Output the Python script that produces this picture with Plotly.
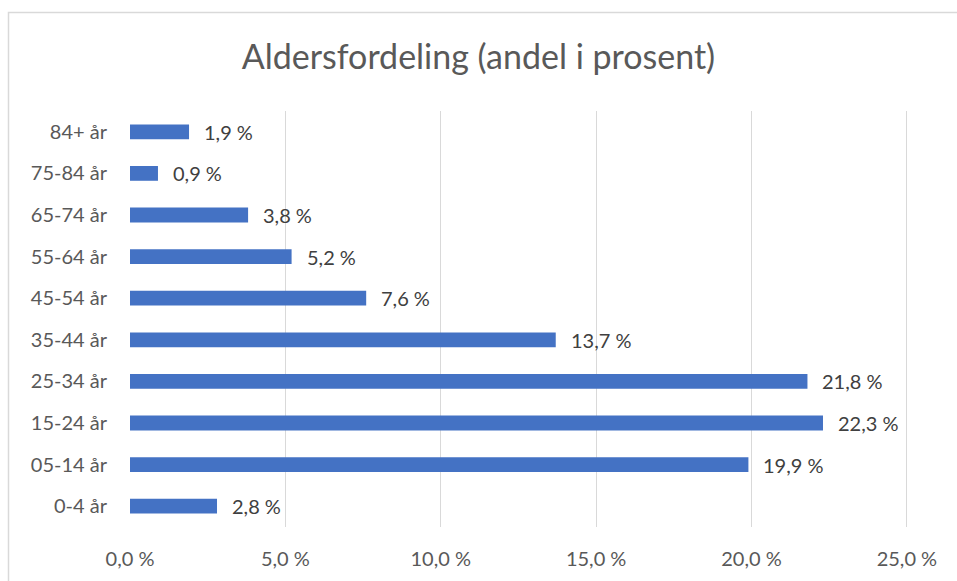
import plotly.graph_objects as go

categories = ["0-4 år", "05-14 år", "15-24 år", "25-34 år", "35-44 år",
              "45-54 år", "55-64 år", "65-74 år", "75-84 år", "84+ år"]
values = [2.8, 19.9, 22.3, 21.8, 13.7, 7.6, 5.2, 3.8, 0.9, 1.9]
x_ticks = [0, 5, 10, 15, 20, 25]
x_tick_labels = ["0,0 %", "5,0 %", "10,0 %", "15,0 %", "20,0 %", "25,0 %"]

W, H = 957, 581
L, R, T, B = 130, 47, 111, 54
pw, ph = W - L - R, H - T - B
FONT = "Lato, Open Sans, sans-serif"

fig = go.Figure()
fig.add_trace(go.Bar(
    y=categories, x=values, orientation="h",
    marker=dict(color="#4472C4", line=dict(width=0)),
    width=0.355, hoverinfo="skip",
))

for c, v in zip(categories, values):
    fig.add_annotation(x=v, y=c, xref="x", yref="y", text=f"{v:.1f} %".replace(".", ","),
                       showarrow=False, xanchor="left", xshift=13,
                       font=dict(family=FONT, size=20, color="#404040"))

# chart border (light gray)
fig.add_shape(type="rect", xref="paper", yref="paper",
              x0=(8.5 - L) / pw, x1=(W + 5 - L) / pw,
              y0=-(H + 5 - (T + ph)) / ph, y1=(T + ph - 12.5) / ph,
              line=dict(color="#d9d9d9", width=1.5), layer="below")

fig.update_layout(
    width=W, height=H,
    margin=dict(l=L, r=R, t=T, b=B, pad=0),
    paper_bgcolor="white", plot_bgcolor="white",
    showlegend=False,
    title=dict(text="Aldersfordeling (andel i prosent)", x=0.5, xref="container",
               y=1 - 57 / H, yref="container", yanchor="middle",
               font=dict(family=FONT, size=34, color="#595959")),
    font=dict(family=FONT, size=20, color="#595959"),
    xaxis=dict(range=[0, 25.1], tickvals=x_ticks, ticktext=x_tick_labels,
               showgrid=True, gridcolor="#d9d9d9", gridwidth=1.3,
               zeroline=False, showline=False, ticks="", ticklabelstandoff=18,
               tickfont=dict(size=20, color="#595959")),
    yaxis=dict(showgrid=False, zeroline=False, showline=False, ticks="",
               ticklabelstandoff=22, tickfont=dict(size=20, color="#595959")),
)

fig.write_html("out.html", config={"displayModeBar": False},
               post_script="document.body.style.margin='0';")
